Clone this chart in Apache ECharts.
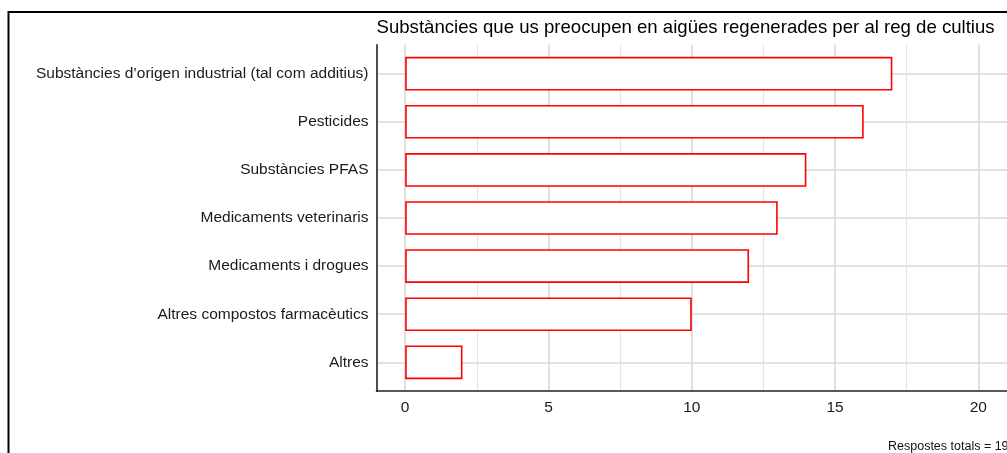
<!DOCTYPE html>
<html>
<head>
<meta charset="utf-8">
<script src="https://cdn.jsdelivr.net/npm/echarts@6/dist/echarts.min.js"></script>
<style>
  html, body { margin: 0; padding: 0; background: #fff; }
  #chart { width: 1007px; height: 453px; }
</style>
</head>
<body>
<div id="chart"></div>
<script>
// Data
const categories = [
  'Substàncies d’origen industrial (tal com additius)',
  'Pesticides',
  'Substàncies PFAS',
  'Medicaments veterinaris',
  'Medicaments i drogues',
  'Altres compostos farmacèutics',
  'Altres'
];
const values = [17, 16, 14, 13, 12, 10, 2];
const titleText = 'Substàncies que us preocupen en aigües regenerades per al reg de cultius';
const captionText = 'Respostes totals = 19';

const FONT = '"Liberation Sans", Arial, sans-serif';

// Panel geometry (ggplot-like: 0.6 band padding at each end of the category axis)
const panelLeft = 376.5;
const panelTop = 44.8;
const panelBottom = 391.2;
const band = (panelBottom - panelTop) / 7.2;

const chart = echarts.init(document.getElementById('chart'));

const xBase = {
  type: 'value',
  min: -1,
  max: 21
};

const option = {
  animation: false,
  title: {
    text: titleText,
    left: panelLeft,
    top: 18,
    padding: 0,
    textStyle: { fontFamily: FONT, fontSize: 18.6, fontWeight: 'normal', color: '#000' }
  },
  grid: [
    // panel: axis lines + grid lines
    { left: panelLeft, top: panelTop, width: 22 * 28.78, height: panelBottom - panelTop },
    // bars + category labels
    { left: panelLeft, top: panelTop + 0.1 * band, width: 22 * 28.78, height: 7 * band }
  ],
  xAxis: [
    Object.assign({}, xBase, {
      gridIndex: 0,
      axisLine: { show: true, onZero: false, lineStyle: { color: '#222', width: 1.6 } },
      axisTick: { show: false },
      minorTick: { show: false, splitNumber: 2 },
      axisLabel: {
        margin: 8.5, fontFamily: FONT, fontSize: 15.5, color: '#1a1a1a',
        showMinLabel: false, showMaxLabel: false
      },
      splitLine: { show: true, showMinLine: false, showMaxLine: false, lineStyle: { color: '#d9d9d9', width: 1.6 } },
      minorSplitLine: { show: true, lineStyle: { color: '#e4e4e4', width: 1.2 } }
    }),
    Object.assign({}, xBase, {
      gridIndex: 1,
      show: false,
      splitLine: { show: false }
    })
  ],
  yAxis: [
    {
      gridIndex: 0,
      type: 'value',
      min: 0.4,
      max: 7.6,
      inverse: true,
      axisLine: { show: true, onZero: false, lineStyle: { color: '#222', width: 1.6 } },
      axisTick: { show: false },
      axisLabel: { show: false },
      splitLine: { show: true, showMinLine: false, showMaxLine: false, lineStyle: { color: '#d9d9d9', width: 1.6 } }
    },
    {
      gridIndex: 1,
      type: 'category',
      data: categories,
      inverse: true,
      axisLine: { show: false, onZero: false },
      axisTick: { show: false },
      splitLine: { show: false },
      axisLabel: {
        margin: 8, fontFamily: FONT, fontSize: 15.5, color: '#1a1a1a',
        lineHeight: 18, verticalAlign: 'middle',
        backgroundColor: 'transparent', padding: [6, 0, 0, 0]
      }
    }
  ],
  series: [
    {
      type: 'bar',
      xAxisIndex: 1,
      yAxisIndex: 1,
      data: values,
      barWidth: '70%',
      itemStyle: { color: '#fff', borderColor: '#ff0000', borderWidth: 1.6 }
    }
  ],
  graphic: [
    {
      type: 'rect',
      shape: { x: 8.5, y: 12, width: 1200, height: 600 },
      style: { fill: 'none', stroke: '#000', lineWidth: 2 },
      silent: true
    },
    {
      type: 'text',
      left: 888,
      top: 440,
      style: { text: captionText, font: '12.5px ' + FONT, fill: '#111' },
      silent: true
    }
  ]
};

chart.setOption(option);
</script>
</body>
</html>
